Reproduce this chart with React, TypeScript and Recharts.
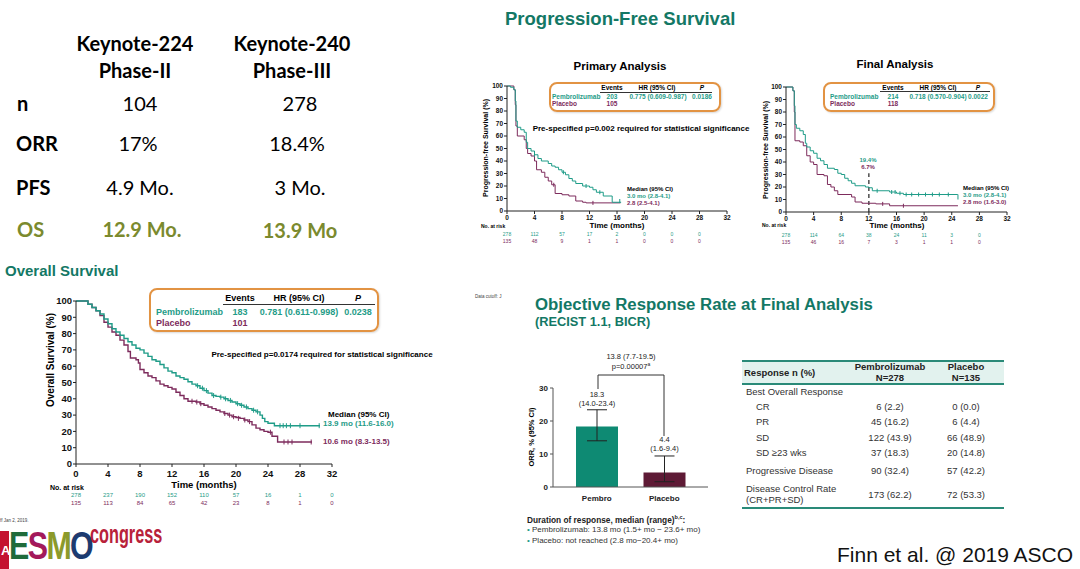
import React from "react";
import {
  ComposedChart, Line, Scatter, XAxis, YAxis, ReferenceLine,
  BarChart, Bar, ErrorBar, LabelList, Cell,
} from "recharts";

const TEAL = "#1f9c88";
const PURPLE = "#7d2b5c";
const TITLE = "#137865";
const ORANGE = "#e29343";
const OLIVE = "#7b8a2e";
const ARIAL = "'Liberation Sans', Arial, sans-serif";
const CAL = "Lato, 'Open Sans', sans-serif";

// ---- Overall survival (Kaplan-Meier, months / %)
const osTicks = [0, 4, 8, 12, 16, 20, 24, 28, 32];
const pctTicks = [0, 10, 20, 30, 40, 50, 60, 70, 80, 90, 100];
const osPembro = [
  [0, 100], [1, 100], [1.5, 98], [2, 96], [2.5, 94], [3, 92], [3.5, 89], [4, 86], [4.5, 83],
  [5, 81], [5.5, 79], [6, 77], [6.5, 75], [7, 73], [7.5, 71], [8, 70], [8.5, 68], [9, 66],
  [9.5, 64], [10, 63], [10.5, 61], [11, 59], [11.5, 57], [12, 56], [12.5, 54], [13, 53],
  [13.5, 52], [14, 50.5], [14.5, 49], [15, 48], [15.5, 46.5], [16, 45], [16.5, 43.5], [17, 42],
  [17.5, 41.5], [18, 41], [18.5, 40], [19, 39], [19.5, 38], [20, 37], [20.5, 36], [21, 35],
  [21.5, 34], [22, 33], [22.5, 32], [23, 30], [23.3, 28], [23.6, 26], [24, 25], [24.8, 23.5],
  [30.5, 23.5],
];
const osPlacebo = [
  [0, 100], [1, 100], [1.5, 98], [2, 96], [2.5, 94], [3, 91], [3.5, 87], [4, 84], [4.5, 81],
  [5, 79], [5.5, 76], [6, 73], [6.5, 69], [6.8, 65], [7.5, 64], [7.8, 62], [8, 58], [8.5, 56],
  [9, 54], [9.5, 53], [10, 51], [10.5, 49], [11, 48], [11.5, 47], [12, 46], [12.5, 44], [13, 42],
  [13.5, 40], [14, 38.5], [15, 38], [15.5, 37], [16, 36], [16.5, 35], [17, 34], [17.5, 33],
  [18, 32], [18.5, 31], [19, 30], [19.5, 29], [20, 28.5], [20.5, 28], [21, 27], [21.5, 26],
  [22, 24], [22.5, 22], [23, 21], [23.5, 20], [24, 19.5], [24.5, 17], [25.2, 13.5], [29.5, 13.5],
];
// censor ticks (month, %)
const osCensPembro = [
  [15.2, 48], [15.8, 46.5], [16.3, 45], [17.2, 42], [18.1, 41], [18.7, 40], [19.3, 39], [20.2, 37],
  [20.7, 36], [21.3, 35], [22.2, 33], [22.7, 32], [25.5, 23.5], [25.9, 23.5], [26.3, 23.5],
  [26.8, 23.5], [28, 23.5], [30.4, 23.5],
];
const osCensPlacebo = [
  [14.5, 38.5], [15.1, 38], [15.6, 37], [18.6, 31], [19.2, 30], [19.7, 29], [20.3, 28], [21.1, 27],
  [21.7, 26], [24.3, 19.5], [26, 13.5], [26.5, 13.5], [27, 13.5], [29.4, 13.5],
];
const osRiskPembro = [278, 237, 190, 152, 110, 57, 16, 1, 0];
const osRiskPlacebo = [135, 113, 84, 65, 42, 23, 8, 1, 0];

// ---- PFS primary analysis
const pfsTicks = [0, 4, 8, 12, 16, 20, 24, 28, 32];
const pfs1Pembro = [
  [0, 100], [0.5, 99], [1, 97], [1.2, 88], [1.3, 72], [1.5, 67], [2, 65], [2.5, 63], [2.8, 55],
  [3, 50], [3.5, 48], [4, 45], [4.5, 42], [5, 40], [6, 38], [6.5, 36], [7, 35], [7.5, 33],
  [8, 31], [8.5, 29], [9, 26], [9.5, 24], [10, 22], [11, 20], [12, 19], [12.5, 17], [13, 15],
  [14, 12], [15.3, 7], [16.6, 7],
];
const pfs1Placebo = [
  [0, 100], [1, 97], [1.2, 85], [1.3, 68], [1.5, 60], [2.5, 57], [2.8, 50], [3, 46], [3.5, 44],
  [4, 40], [4.3, 33], [5, 31], [5.5, 27], [6, 24], [6.5, 21], [7, 14], [8, 13], [9, 12],
  [10, 8], [11, 7], [11.5, 6.5], [16.5, 6.5],
];
const pfs1CensPembro = [[4, 45], [8.2, 31], [11.5, 20], [13.5, 15], [16.4, 8]];
const pfs1CensPlacebo = [[6.8, 21], [12.5, 6.5]];
const pfs1RiskPembro = [278, 112, 57, 17, 2, 0, 0, 0];
const pfs1RiskPlacebo = [135, 48, 9, 1, 1, 0, 0, 0];

// ---- PFS final analysis
const pfs2Pembro = [
  [0, 100], [1, 97], [1.2, 85], [1.3, 70], [1.5, 67], [2, 65], [2.5, 62], [2.8, 55], [3, 52],
  [3.5, 49], [4, 47], [4.5, 43], [5, 41], [5.5, 38], [6, 35], [7, 34], [7.5, 31], [8, 30],
  [8.5, 27], [9, 25], [9.5, 23], [10, 21], [11.5, 20], [12, 19.4], [12.5, 17], [15, 16],
  [16, 15], [17, 14], [24.8, 14], [24.9, 10],
];
const pfs2Placebo = [
  [0, 100], [1, 97], [1.2, 80], [1.3, 57], [2, 56], [2.5, 53], [3, 45], [3.5, 40], [4, 38],
  [4.5, 30], [5.5, 29], [6, 22], [6.5, 20], [7, 17], [7.5, 14], [9.5, 12], [10, 8], [11, 7],
  [13, 6.5], [15, 5], [24.9, 5],
];
const pfs2CensPembro = [
  [13.2, 17], [15.3, 16], [15.8, 16], [16.5, 15], [17.4, 14], [18.2, 14], [19.2, 14], [20.2, 14],
  [21.2, 14], [22.2, 14], [23.5, 14],
];
const pfs2CensPlacebo = [[14, 6.5], [17, 5]];
const pfs2RiskPembro = [278, 114, 64, 38, 24, 11, 3, 0];
const pfs2RiskPlacebo = [135, 46, 16, 7, 3, 1, 1, 0];

// ---- ORR
const orrGroups = ["Pembro", "Placebo"];
const orrValues = [18.3, 4.4];
const orrLow = [14.0, 1.6];
const orrHigh = [23.4, 9.4];
const orrColors = ["#0e8a73", "#5e1a35"];
const orrTicks = [0, 10, 20, 30];

// ---- response table
const respRows = ["CR", "PR", "SD", "SD ≥23 wks"];
const respPembro = ["6 (2.2)", "45 (16.2)", "122 (43.9)", "37 (18.3)"];
const respPlacebo = ["0 (0.0)", "6 (4.4)", "66 (48.9)", "20 (14.8)"];

const toPts = (a: number[][]) => a.map(([t, s]) => ({ t, s }));
const orrData = orrGroups.map((g, i) => ({
  g,
  v: orrValues[i],
  err: [orrValues[i] - orrLow[i], orrHigh[i] - orrValues[i]],
  ci: `(${orrLow[i].toFixed(1)}-${orrHigh[i].toFixed(1)})`,
}));

const T = ({ x, y, size = 10, color = "#000", bold = false, anchor = "start", family = ARIAL, italic = false, style = {}, children }: any) => (
  <div
    style={{
      position: "absolute", left: x, top: y, fontSize: size, color,
      fontWeight: bold ? 700 : 400, fontStyle: italic ? "italic" : "normal",
      fontFamily: family, whiteSpace: "nowrap", lineHeight: 1,
      transform: `translate(${anchor === "middle" ? "-50%" : anchor === "end" ? "-100%" : "0"}, -50%)`,
      ...style,
    }}
  >
    {children}
  </div>
);

function riskTick(ticks: number[], top: number[], bot: number[], o: any) {
  return (props: any) => {
    const { x, y, payload } = props;
    const i = ticks.indexOf(payload.value);
    return (
      <g fontFamily={ARIAL} textAnchor="middle">
        <text x={x} y={y + o.lab} fontSize={o.fs} fontWeight={700} fill="#111">{payload.value}</text>
        {top[i] !== undefined && (
          <text x={x} y={y + o.r1} fontSize={o.rfs} fill={TEAL}>{top[i]}</text>
        )}
        {bot[i] !== undefined && (
          <text x={x} y={y + o.r2} fontSize={o.rfs} fill={PURPLE}>{bot[i]}</text>
        )}
      </g>
    );
  };
}

const censor = (color: string, h: number) => (p: any) => (
  <line x1={p.cx} x2={p.cx} y1={p.cy - h} y2={p.cy + h} stroke={color} strokeWidth={1} />
);

function KM({ w, h, margin, xTicks, a, b, ca, cb, riskA, riskB, o, yw, fs, sw, ch, children }: any) {
  return (
    <ComposedChart width={w} height={h} margin={margin}>
      <XAxis
        type="number" dataKey="t" domain={[0, 32]} ticks={xTicks} interval={0}
        height={30} tickSize={3} tickMargin={2} stroke="#222"
        tick={riskTick(xTicks, riskA, riskB, o)} allowDataOverflow
      />
      <YAxis
        type="number" dataKey="s" domain={[0, 100]} ticks={pctTicks} interval={0} width={yw}
        tickSize={3} tickMargin={1} stroke="#222"
        tick={{ fontSize: fs, fontWeight: 700, fill: "#111", fontFamily: ARIAL }}
      />
      {children}
      <Line data={toPts(b)} dataKey="s" type="stepAfter" stroke={PURPLE} strokeWidth={sw} dot={false} isAnimationActive={false} />
      <Line data={toPts(a)} dataKey="s" type="stepAfter" stroke={TEAL} strokeWidth={sw} dot={false} isAnimationActive={false} />
      <Scatter data={toPts(cb)} dataKey="s" shape={censor(PURPLE, ch)} isAnimationActive={false} />
      <Scatter data={toPts(ca)} dataKey="s" shape={censor(TEAL, ch)} isAnimationActive={false} />
    </ComposedChart>
  );
}

const BarLabel = (props: any) => {
  const { x, y, width, index } = props;
  const cx = x + width / 2;
  return (
    <g fontFamily={ARIAL} textAnchor="middle" fontSize={7.5} fill="#222">
      <text x={cx} y={y - 30}>{orrValues[index]}</text>
      <text x={cx} y={y - 21}>{orrData[index].ci}</text>
    </g>
  );
};

const Box = ({ x, y, w, h }: any) => (
  <div style={{ position: "absolute", left: x, top: y, width: w, height: h, border: `2px solid ${ORANGE}`, borderRadius: 8, boxSizing: "border-box", boxShadow: "1px 1px 2px rgba(0,0,0,0.15)" }} />
);
const HLine = ({ x, y, w, c = "#333", t = 1 }: any) => (
  <div style={{ position: "absolute", left: x, top: y, width: w, height: t, background: c }} />
);

export default function App() {
  return (
    <div style={{ position: "absolute", left: 0, top: 0, width: 1080, height: 569, background: "#fff", overflow: "hidden", fontFamily: ARIAL }}>
      {/* Top-left comparison table */}
      <T x={135} y={43} size={20} bold family={CAL} anchor="middle">Keynote-224</T>
      <T x={135} y={70} size={20} bold family={CAL} anchor="middle">Phase-II</T>
      <T x={292} y={43} size={20} bold family={CAL} anchor="middle">Keynote-240</T>
      <T x={292} y={70} size={20} bold family={CAL} anchor="middle">Phase-III</T>
      <T x={17} y={103} size={20} bold family={CAL}>n</T>
      <T x={140} y={103} size={20} family={CAL} anchor="middle">104</T>
      <T x={300} y={103} size={20} family={CAL} anchor="middle">278</T>
      <T x={16} y={143} size={20} bold family={CAL}>ORR</T>
      <T x={138} y={143} size={20} family={CAL} anchor="middle">17%</T>
      <T x={297} y={143} size={20} family={CAL} anchor="middle">18.4%</T>
      <T x={16} y={187} size={20} bold family={CAL}>PFS</T>
      <T x={140} y={187} size={20} family={CAL} anchor="middle">4.9 Mo.</T>
      <T x={300} y={187} size={20} family={CAL} anchor="middle">3 Mo.</T>
      <T x={17} y={229} size={20} bold family={CAL} color={OLIVE}>OS</T>
      <T x={142} y={229} size={20} bold family={CAL} color={OLIVE} anchor="middle">12.9 Mo.</T>
      <T x={300} y={230} size={20} bold family={CAL} color={OLIVE} anchor="middle">13.9 Mo</T>

      {/* Overall survival */}
      <T x={5} y={270} size={15} bold color={TITLE}>Overall Survival</T>
      <div style={{ position: "absolute", left: 0, top: 280 }}>
        <KM
          w={400} h={240} margin={{ top: 21, right: 68, left: 36, bottom: 26 }}
          xTicks={osTicks} a={osPembro} b={osPlacebo} ca={osCensPembro} cb={osCensPlacebo}
          riskA={osRiskPembro} riskB={osRiskPlacebo}
          o={{ fs: 9.5, lab: 7.5, r1: 28, r2: 36, rfs: 6 }} yw={40} fs={9.5} sw={1.4} ch={2.5}
        />
      </div>
      <T x={51} y={360} size={10} bold style={{ transform: "translate(-50%,-50%) rotate(-90deg)" }}>Overall Survival (%)</T>
      <T x={204} y={485} size={9.5} bold anchor="middle">Time (months)</T>
      <T x={50} y={487} size={7} bold>No. at risk</T>
      <Box x={149} y={288} w={230} h={44} />
      <T x={240} y={298} size={9} bold anchor="middle">Events</T>
      <T x={299} y={298} size={9} bold anchor="middle">HR (95% CI)</T>
      <T x={358} y={298} size={9} bold italic anchor="middle">P</T>
      <HLine x={223} y={304} w={152} />
      <T x={156} y={312} size={9} bold color={TEAL}>Pembrolizumab</T>
      <T x={240} y={312} size={9} bold color={TEAL} anchor="middle">183</T>
      <T x={299} y={312} size={9} bold color={TEAL} anchor="middle">0.781 (0.611-0.998)</T>
      <T x={358} y={312} size={9} bold color={TEAL} anchor="middle">0.0238</T>
      <T x={156} y={323} size={9} bold color={PURPLE}>Placebo</T>
      <T x={240} y={323} size={9} bold color={PURPLE} anchor="middle">101</T>
      <T x={322} y={355} size={8} bold anchor="middle">Pre-specified p=0.0174 required for statistical significance</T>
      <T x={328} y={415} size={8} bold>Median (95% CI)</T>
      <T x={323} y={424} size={8} bold color={TEAL}>13.9 mo (11.6-16.0)</T>
      <T x={323} y={442} size={8} bold color={PURPLE}>10.6 mo (8.3-13.5)</T>

      {/* PFS */}
      <T x={505} y={19} size={18.5} bold color={TITLE}>Progression-Free Survival</T>
      <T x={620} y={67} size={11.5} bold anchor="middle">Primary Analysis</T>
      <T x={895} y={65} size={11.5} bold anchor="middle">Final Analysis</T>

      <div style={{ position: "absolute", left: 440, top: 75 }}>
        <KM
          w={310} h={180} margin={{ top: 11, right: 23, left: 37, bottom: 14 }}
          xTicks={pfsTicks} a={pfs1Pembro} b={pfs1Placebo} ca={pfs1CensPembro} cb={pfs1CensPlacebo}
          riskA={pfs1RiskPembro} riskB={pfs1RiskPlacebo}
          o={{ fs: 6.5, lab: 3.5, r1: 20, r2: 27, rfs: 5 }} yw={30} fs={6.5} sw={1} ch={2}
        />
      </div>
      <T x={485} y={148} size={7} bold style={{ transform: "translate(-50%,-50%) rotate(-90deg)" }}>Progression-free Survival (%)</T>
      <T x={617} y={226} size={8} bold anchor="middle">Time (months)</T>
      <T x={481} y={226} size={5} bold>No. at risk</T>
      <Box x={549} y={82} w={172} h={30} />
      <T x={612} y={88} size={6.5} bold anchor="middle">Events</T>
      <T x={657} y={88} size={6.5} bold anchor="middle">HR (95% CI)</T>
      <T x={702} y={88} size={6.5} bold italic anchor="middle">P</T>
      <HLine x={600} y={92} w={112} />
      <T x={552} y={97} size={6.5} bold color={TEAL}>Pembrolizumab</T>
      <T x={612} y={97} size={6.5} bold color={TEAL} anchor="middle">203</T>
      <T x={658} y={97} size={6.5} bold color={TEAL} anchor="middle">0.775 (0.609-0.987)</T>
      <T x={702} y={97} size={6.5} bold color={TEAL} anchor="middle">0.0186</T>
      <T x={552} y={104} size={6.5} bold color={PURPLE}>Placebo</T>
      <T x={612} y={104} size={6.5} bold color={PURPLE} anchor="middle">105</T>
      <T x={641} y={129} size={8} bold anchor="middle">Pre-specified p=0.002 required for statistical significance</T>
      <T x={627} y={189} size={6} bold>Median (95% CI)</T>
      <T x={627} y={196} size={6} bold color={TEAL}>3.0 mo (2.8-4.1)</T>
      <T x={627} y={203} size={6} bold color={PURPLE}>2.8 (2.5-4.1)</T>

      <div style={{ position: "absolute", left: 720, top: 75 }}>
        <KM
          w={320} h={180} margin={{ top: 12, right: 33, left: 36, bottom: 13 }}
          xTicks={pfsTicks} a={pfs2Pembro} b={pfs2Placebo} ca={pfs2CensPembro} cb={pfs2CensPlacebo}
          riskA={pfs2RiskPembro} riskB={pfs2RiskPlacebo}
          o={{ fs: 6.5, lab: 3.5, r1: 20, r2: 27, rfs: 5 }} yw={30} fs={6.5} sw={1} ch={2}
        >
          <ReferenceLine segment={[{ x: 12, y: 0 }, { x: 12, y: 31 }]} stroke="#222" strokeWidth={1.2} strokeDasharray="4 3" />
        </KM>
      </div>
      <T x={765} y={150} size={7} bold style={{ transform: "translate(-50%,-50%) rotate(-90deg)" }}>Progression-free Survival (%)</T>
      <T x={897} y={226} size={8} bold anchor="middle">Time (months)</T>
      <T x={762} y={225} size={5} bold>No. at risk</T>
      <Box x={823} y={82} w={172} h={30} />
      <T x={893} y={88} size={6.5} bold anchor="middle">Events</T>
      <T x={938} y={88} size={6.5} bold anchor="middle">HR (95% CI)</T>
      <T x={978} y={88} size={6.5} bold italic anchor="middle">P</T>
      <HLine x={880} y={91} w={110} />
      <T x={830} y={97} size={6.5} bold color={TEAL}>Pembrolizumab</T>
      <T x={893} y={97} size={6.5} bold color={TEAL} anchor="middle">214</T>
      <T x={938} y={97} size={6.5} bold color={TEAL} anchor="middle">0.718 (0.570-0.904)</T>
      <T x={978} y={97} size={6.5} bold color={TEAL} anchor="middle">0.0022</T>
      <T x={830} y={104} size={6.5} bold color={PURPLE}>Placebo</T>
      <T x={893} y={104} size={6.5} bold color={PURPLE} anchor="middle">118</T>
      <T x={868} y={160} size={6} bold color={TEAL} anchor="middle">19.4%</T>
      <T x={868} y={167} size={6} bold color={PURPLE} anchor="middle">6.7%</T>
      <T x={963} y={188} size={6} bold>Median (95% CI)</T>
      <T x={963} y={195} size={6} bold color={TEAL}>3.0 mo (2.8-4.1)</T>
      <T x={963} y={202} size={6} bold color={PURPLE}>2.8 mo (1.6-3.0)</T>

      {/* ORR */}
      <T x={475} y={297} size={4.5} color="#444">Data cutoff: J</T>
      <T x={0} y={521} size={4.5} color="#444">ff Jan 2, 2019.</T>
      <T x={535} y={305} size={16.8} bold color={TITLE}>Objective Response Rate at Final Analysis</T>
      <T x={535} y={322} size={12.8} bold color={TITLE}>(RECIST 1.1, BICR)</T>
      <div style={{ position: "absolute", left: 500, top: 340 }}>
        <BarChart width={220} height={170} data={orrData} margin={{ top: 48, right: 12, left: 23, bottom: 3 }}>
          <XAxis dataKey="g" height={20} padding={{ left: 10, right: 10 }} tickLine={false} stroke="#555"
            tick={{ fontSize: 8, fontWeight: 700, fill: "#222", fontFamily: ARIAL }} />
          <YAxis domain={[0, 30]} ticks={orrTicks} width={30} tickSize={3} stroke="#555"
            tick={{ fontSize: 8, fontWeight: 700, fill: "#222", fontFamily: ARIAL }} />
          <Bar dataKey="v" barSize={42} isAnimationActive={false}>
            {orrData.map((d, i) => <Cell key={d.g} fill={orrColors[i]} />)}
            <ErrorBar dataKey="err" width={10} stroke="#222" strokeWidth={1} direction="y" />
            <LabelList dataKey="v" content={<BarLabel />} />
          </Bar>
        </BarChart>
      </div>
      <T x={532} y={437} size={7.5} bold style={{ transform: "translate(-50%,-50%) rotate(-90deg)" }}>ORR, % (95% CI)</T>
      <svg style={{ position: "absolute", left: 0, top: 0 }} width={1080} height={569}>
        <polyline points="598,389 598,375 664,375 664,436" fill="none" stroke="#333" strokeWidth={1} />
      </svg>
      <T x={631} y={357} size={7.5} color="#222" anchor="middle">13.8 (7.7-19.5)</T>
      <T x={631} y={366} size={7.5} color="#222" anchor="middle">p=0.00007<sup style={{ fontSize: 5 }}>a</sup></T>
      <T x={527} y={520} size={8.3} bold color="#222">Duration of response, median (range)<sup style={{ fontSize: 5.5 }}>b,c</sup>:</T>
      <T x={527} y={530} size={8} color="#333"><span style={{ color: TEAL }}>•</span> Pembrolizumab: 13.8 mo (1.5+ mo − 23.6+ mo)</T>
      <T x={527} y={541} size={8} color="#333"><span style={{ color: TEAL }}>•</span> Placebo: not reached (2.8 mo−20.4+ mo)</T>

      {/* Response table */}
      <div style={{ position: "absolute", left: 742, top: 361, width: 262, height: 23, background: "#e2f2ee" }} />
      <HLine x={742} y={360} w={262} c="#2a8a78" t={2} />
      <HLine x={742} y={383} w={262} c="#2a8a78" t={2} />
      <HLine x={742} y={507} w={262} c="#2a8a78" t={2} />
      <T x={744} y={373} size={9.5} bold color="#222">Response n (%)</T>
      <T x={890} y={367} size={9.5} bold color="#222" anchor="middle">Pembrolizumab</T>
      <T x={890} y={378} size={9.5} bold color="#222" anchor="middle">N=278</T>
      <T x={966} y={367} size={9.5} bold color="#222" anchor="middle">Placebo</T>
      <T x={966} y={378} size={9.5} bold color="#222" anchor="middle">N=135</T>
      <T x={746} y={392} size={9.5} color="#333">Best Overall Response</T>
      {respRows.map((r, i) => {
        const y = [407, 422, 438, 453][i];
        return (
          <React.Fragment key={r}>
            <T x={756} y={y} size={9.5} color="#333">{r}</T>
            <T x={890} y={y} size={9.5} color="#333" anchor="middle">{respPembro[i]}</T>
            <T x={966} y={y} size={9.5} color="#333" anchor="middle">{respPlacebo[i]}</T>
          </React.Fragment>
        );
      })}
      <T x={746} y={471} size={9.5} color="#333">Progressive Disease</T>
      <T x={890} y={471} size={9.5} color="#333" anchor="middle">90 (32.4)</T>
      <T x={966} y={471} size={9.5} color="#333" anchor="middle">57 (42.2)</T>
      <T x={746} y={489} size={9.5} color="#333">Disease Control Rate</T>
      <T x={746} y={500} size={9.5} color="#333">(CR+PR+SD)</T>
      <T x={890} y={495} size={9.5} color="#333" anchor="middle">173 (62.2)</T>
      <T x={966} y={495} size={9.5} color="#333" anchor="middle">72 (53.3)</T>

      <T x={837} y={554} size={21} color="#111">Finn et al. @ 2019 ASCO</T>

      {/* ESMO congress logo */}
      <div style={{ position: "absolute", left: 0, top: 531, width: 9, height: 38, background: "#c4122f" }} />
      <T x={1} y={550} size={13} color="#fff" bold>A</T>
      <div style={{ position: "absolute", left: 9, top: 525, fontFamily: ARIAL, fontWeight: 700, fontSize: 38, lineHeight: 1.15, letterSpacing: -2, transform: "scaleX(0.8)", transformOrigin: "left top", whiteSpace: "nowrap" }}>
        <span style={{ color: "#1f6b3b" }}>E</span>
        <span style={{ color: "#a3195b" }}>S</span>
        <span style={{ color: "#8c9a2b" }}>M</span>
        <span style={{ color: "#1d3b70" }}>O</span>
      </div>
      <div style={{ position: "absolute", left: 90, top: 522, fontFamily: ARIAL, fontWeight: 700, fontSize: 25, lineHeight: "25px", color: "#b8213a", transform: "scaleX(0.65)", transformOrigin: "left top", whiteSpace: "nowrap" }}>congress</div>
    </div>
  );
}
